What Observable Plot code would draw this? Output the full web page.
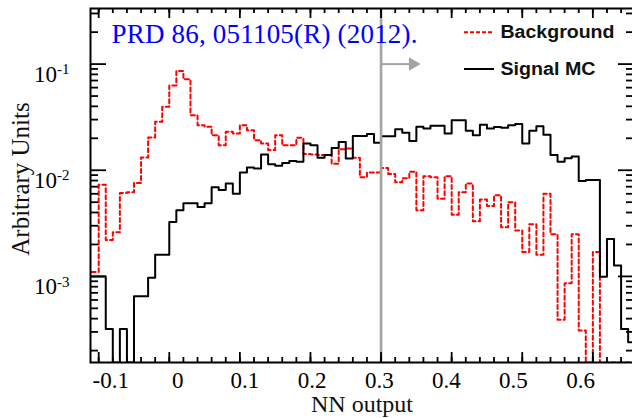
<!DOCTYPE html>
<html>
<head>
<meta charset="utf-8">
<script src="https://cdn.jsdelivr.net/npm/d3@7"></script>
<script src="https://cdn.jsdelivr.net/npm/@observablehq/plot@0.6"></script>
<style>
  html, body { margin: 0; padding: 0; background: #fff; }
  #wrap { position: relative; width: 632px; height: 418px; overflow: hidden; background: #fff; }
  #chart { position: absolute; left: 0; top: 0; width: 640px; height: 418px; }
  #chart svg { max-width: none !important; width: 640px; height: 418px; }
  #overlay { position: absolute; left: 0; top: 0; pointer-events: none; }
  #chart g[aria-label="x-axis tick label"],
  #chart g[aria-label="y-axis tick label"] {
    font-family: "Liberation Serif", "DejaVu Serif", serif;
    font-size: 23px;
    fill: #000;
  }
  .serif { font-family: "Liberation Serif", "DejaVu Serif", serif; }
  .sans { font-family: "Liberation Sans", Arial, sans-serif; font-weight: bold; }
</style>
</head>
<body>
<div id="wrap">
  <div id="chart"></div>
  <svg id="overlay" width="632" height="418" xmlns="http://www.w3.org/2000/svg">
    <text class="serif" x="111.5" y="43.3" font-size="27" fill="#0000ff" textLength="306" lengthAdjust="spacing">PRD 86, 051105(R) (2012).</text>
    <line x1="464" x2="494" y1="32.3" y2="32.3" stroke="#ff0000" stroke-width="2" stroke-dasharray="4,2"/>
    <text class="sans" x="500.5" y="37.8" font-size="17.5" fill="#111" textLength="114" lengthAdjust="spacingAndGlyphs">Background</text>
    <line x1="464" x2="494" y1="69" y2="69" stroke="#000" stroke-width="2"/>
    <text class="sans" x="500.5" y="74.5" font-size="17.5" fill="#111" textLength="95" lengthAdjust="spacingAndGlyphs">Signal MC</text>
    <text class="serif" x="362" y="412" font-size="24" text-anchor="middle" fill="#111">NN output</text>
    <text class="serif" transform="translate(29,179) rotate(-90)" font-size="25" text-anchor="middle" fill="#111">Arbitrary Units</text>
  </svg>
</div>
<script>
// ---- data ----
const binLo = [
  -0.12, -0.11, -0.10, -0.09, -0.08, -0.07, -0.06, -0.05, -0.04, -0.03, -0.02, -0.01,
  0.00, 0.01, 0.02, 0.03, 0.04, 0.05, 0.06, 0.07, 0.08, 0.09,
  0.10, 0.11, 0.12, 0.13, 0.14, 0.15, 0.16, 0.17, 0.18, 0.19,
  0.20, 0.21, 0.22, 0.23, 0.24, 0.25, 0.26, 0.27, 0.28, 0.29,
  0.30, 0.31, 0.32, 0.33, 0.34, 0.35, 0.36, 0.37, 0.38, 0.39,
  0.40, 0.41, 0.42, 0.43, 0.44, 0.45, 0.46, 0.47, 0.48, 0.49,
  0.50, 0.51, 0.52, 0.53, 0.54, 0.55, 0.56, 0.57, 0.58, 0.59,
  0.60, 0.61, 0.62, 0.63, 0.64, 0.65
];
const binWidth = 0.01;

const signalMC = [
  1.0e-3, 1.0e-3, 1.0e-3, 3.2e-4, 0, 3.2e-4, 0, 6.5e-4, 6.5e-4, 9.7e-4, 1.6e-3, 1.6e-3,
  3.26e-3, 4.2e-3, 4.9e-3, 4.9e-3, 4.5e-3, 4.9e-3, 6.9e-3, 6.5e-3, 7.5e-3, 6.0e-3,
  9.5e-3, 0.0106, 0.0104, 0.0141, 0.0114, 0.0110, 0.0117, 0.0122, 0.0120, 0.0179,
  0.0172, 0.0131, 0.0139, 0.0162, 0.0185, 0.0129, 0.0210, 0.0210, 0.0219, 0.0182,
  0.0209, 0.0209, 0.0244, 0.0225, 0.0189, 0.0257, 0.0247, 0.0262, 0.0262, 0.0222,
  0.0296, 0.0296, 0.0235, 0.0214, 0.0268, 0.0247, 0.0255, 0.0252, 0.0266, 0.0272,
  0.0179, 0.0235, 0.0260, 0.0216, 0.0139, 0.0120, 0.0130, 0.0135, 0.0079, 0.0081,
  0.0081, 9.9e-4, 2.25e-3, 1.27e-3, 3.2e-4, 2.4e-4
];

const background = [
  1.1e-3, 1.1e-3, 7.3e-3, 2.2e-3, 2.6e-3, 6.1e-3, 6.2e-3, 7.6e-3, 0.0132, 0.0204, 0.0286, 0.0396,
  0.063, 0.086, 0.072, 0.033, 0.0266, 0.0257, 0.0214, 0.0172, 0.0230, 0.0222,
  0.0266, 0.0238, 0.0192, 0.0179, 0.0155, 0.0214, 0.0172, 0.0172, 0.0202, 0.0142,
  0.0141, 0.0139, 0.0139, 0.0115, 0.0158, 0.0160, 0.0131, 0.0086, 0.0095, 0.0095,
  0.0105, 0.0092, 0.0077, 0.0084, 0.0097, 0.0042, 0.0088, 0.0086, 0.0054, 0.0088,
  0.0038, 0.0062, 0.0075, 0.0033, 0.0053, 0.0046, 0.0058, 0.0029, 0.0050, 0.0027,
  0.0017, 0.0031, 0.0016, 0.0060, 0.0025, 3.9e-4, 8.6e-4, 0.0025, 3.1e-4, 0,
  0.0017, 0, 0, 0, 0, 0
];

const xTickValues = [-0.1, 0, 0.1, 0.2, 0.3, 0.4, 0.5, 0.6];
const yTickValues = [1e-3, 1e-2, 1e-1];
const xDomain = [-0.1116, 0.659];
const yDomain = [1.545e-4, 0.334];
const cutValue = 0.3;
const arrowLevel = 0.1;
const arrowHead = 0.345;

// ---- build step series ----
function steps(values) {
  const pts = binLo.map((x, i) => ({x, y: Math.max(values[i], yDomain[0])}));
  const last = binLo.length - 1;
  pts.push({x: binLo[last] + binWidth, y: Math.max(values[last], yDomain[0])});
  return pts;
}
const sigData = steps(signalMC);
const bgData = steps(background);

const W = 640, H = 418, mL = 90, mR = 6, mT = 8, mB = 56;
const frameW = W - mL - mR, frameH = H - mT - mB;

const xMinor = d3.range(-10, 66, 2).map(i => i / 100);
const yMinor = [];
for (const dec of [1e-4, 1e-3, 1e-2, 1e-1]) for (let k = 2; k <= 9; k++) {
  const v = k * dec; if (v >= yDomain[0] && v <= yDomain[1]) yMinor.push(v);
}
const tickStyle = {stroke: "#000", strokeWidth: 1.8};

const fmtX = d => (d === 0 ? "0" : (d < 0 ? "-" : "") + String(Math.abs(d)));

const chart = Plot.plot({
  width: W, height: H,
  marginLeft: mL, marginRight: mR, marginTop: mT, marginBottom: mB,
  x: {type: "linear", domain: xDomain},
  y: {type: "log", domain: yDomain},
  style: {background: "white"},
  marks: [
    Plot.line(bgData, {x: "x", y: "y", curve: "step-after", stroke: "#ff0000", strokeWidth: 2, strokeDasharray: "4,3", clip: true}),
    Plot.line(sigData, {x: "x", y: "y", curve: "step-after", stroke: "#000", strokeWidth: 2, clip: true}),
    Plot.ruleX([cutValue], {stroke: "#a3a3a3", strokeWidth: 2.6}),
    Plot.link([{x1: cutValue, x2: arrowHead, y: arrowLevel}], {x1: "x1", x2: "x2", y1: "y", y2: "y", stroke: "#a3a3a3", strokeWidth: 2}),
    Plot.dot([{x: arrowHead, y: arrowLevel}], {x: "x", y: "y", symbol: "triangle", r: 5, rotate: 90, fill: "#a3a3a3", stroke: "none"}),
    // inward ticks on all four sides
    Plot.tickX(xMinor, {x: d => d, insetTop: frameH - 5, ...tickStyle}),
    Plot.tickX(xMinor, {x: d => d, insetBottom: frameH - 5, ...tickStyle}),
    Plot.tickX(xTickValues, {x: d => d, insetTop: frameH - 10, ...tickStyle}),
    Plot.tickX(xTickValues, {x: d => d, insetBottom: frameH - 10, ...tickStyle}),
    Plot.tickY(yMinor, {y: d => d, insetRight: frameW - 8, ...tickStyle}),
    Plot.tickY(yMinor, {y: d => d, insetLeft: frameW - 8, ...tickStyle}),
    Plot.tickY(yTickValues, {y: d => d, insetRight: frameW - 16, ...tickStyle}),
    Plot.tickY(yTickValues, {y: d => d, insetLeft: frameW - 16, ...tickStyle}),
    Plot.frame({stroke: "#000", strokeWidth: 2}),
    Plot.axisX(xTickValues, {tickSize: 0, tickPadding: 9, tickFormat: fmtX, label: null}),
    Plot.axisY(yTickValues, {tickSize: 0, tickPadding: 21, tickFormat: d => "10^" + Math.round(Math.log10(d)), label: null})
  ]
});

// superscript exponents on the y tick labels
const NS = "http://www.w3.org/2000/svg";
chart.querySelectorAll('g[aria-label="y-axis tick label"] text').forEach(t => {
  const [base, exp] = t.textContent.split("^");
  t.textContent = "";
  t.setAttribute("dy", "0.45em");
  t.appendChild(document.createTextNode(base));
  const sp = document.createElementNS(NS, "tspan");
  sp.setAttribute("dy", "-0.5em");
  sp.setAttribute("font-size", "15px");
  sp.textContent = exp;
  t.appendChild(sp);
});

// the reference's tick labels sit slightly closer together than its ticks
chart.querySelectorAll('g[aria-label="x-axis tick label"] text').forEach(t => {
  const m = /translate\(\s*([-\d.]+)/.exec(t.getAttribute("transform") || "");
  if (m) {
    const px = +m[1];
    t.setAttribute("dx", (16.8 - 0.049 * px).toFixed(1));
  }
});

document.getElementById("chart").appendChild(chart);
</script>
</body>
</html>
